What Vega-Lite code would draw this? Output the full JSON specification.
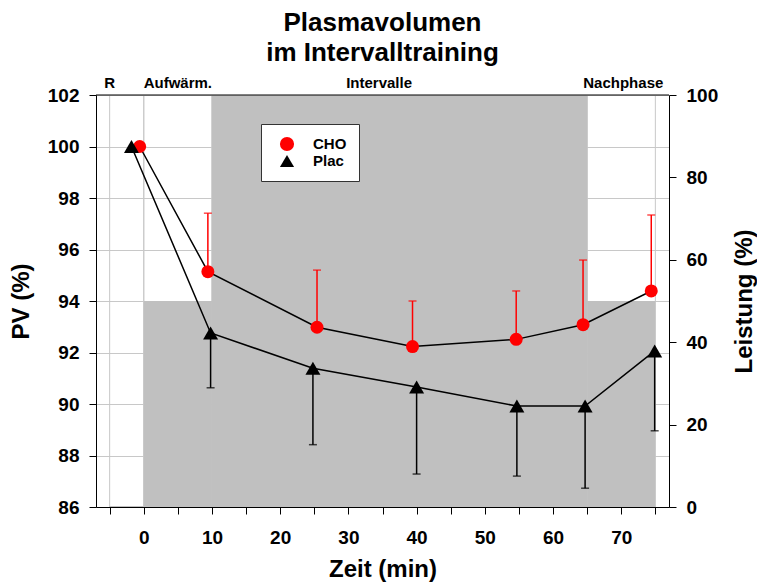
{
  "$schema": "https://vega.github.io/schema/vega-lite/v6.json",
  "width": 573,
  "height": 412,
  "autosize": "none",
  "padding": {"left": 96, "top": 95, "right": 88, "bottom": 76},
  "title": {
    "text": ["Plasmavolumen", " im Intervalltraining"],
    "font": "Liberation Sans",
    "fontSize": 26,
    "fontWeight": "bold",
    "lineHeight": 30,
    "color": "black",
    "anchor": "middle",
    "offset": 10
  },
  "datasets": {
    "phases": [
      {"phase": "R", "start": -5, "end": 0, "leistung": 0, "labelx": -5},
      {"phase": "Aufwärm.", "start": 0, "end": 10, "leistung": 50, "labelx": 5},
      {"phase": "Intervalle", "start": 10, "end": 65, "leistung": 100, "labelx": 34.5},
      {"phase": "Nachphase", "start": 65, "end": 75, "leistung": 50, "labelx": 70.3}
    ],
    "pv": [
      {"series": "CHO", "t": -0.6, "pv": 100.0},
      {"series": "CHO", "t": 9.4, "pv": 95.14, "bar": 97.41},
      {"series": "CHO", "t": 25.4, "pv": 92.98, "bar": 95.2},
      {"series": "CHO", "t": 39.4, "pv": 92.23, "bar": 94.0},
      {"series": "CHO", "t": 54.6, "pv": 92.51, "bar": 94.39},
      {"series": "CHO", "t": 64.4, "pv": 93.08, "bar": 95.59},
      {"series": "CHO", "t": 74.4, "pv": 94.39, "bar": 97.34},
      {"series": "Plac", "t": -1.8, "pv": 100.0},
      {"series": "Plac", "t": 9.8, "pv": 92.76, "bar": 90.63},
      {"series": "Plac", "t": 24.8, "pv": 91.39, "bar": 88.42},
      {"series": "Plac", "t": 40.0, "pv": 90.66, "bar": 87.28},
      {"series": "Plac", "t": 54.7, "pv": 89.92, "bar": 87.2},
      {"series": "Plac", "t": 64.7, "pv": 89.92, "bar": 86.73},
      {"series": "Plac", "t": 74.9, "pv": 92.06, "bar": 88.96}
    ]
  },
  "layer": [
    {
      "data": {"name": "phases"},
      "layer": [
        {
          "mark": {"type": "rule", "color": "#c8c8c8", "strokeWidth": 1},
          "encoding": {"x": {"field": "start", "type": "quantitative", "scale": {"domain": [-7, 77], "nice": false, "zero": false}}}
        },
        {
          "mark": {"type": "rule", "color": "#c8c8c8", "strokeWidth": 1},
          "encoding": {"x": {"field": "end", "type": "quantitative"}}
        },
        {
          "mark": {"type": "rect", "fill": "#c0c0c0", "stroke": "#c0c0c0"},
          "encoding": {
            "x": {
              "field": "start", "type": "quantitative",
              "axis": {
                "orient": "bottom",
                "values": [-5, 0, 5, 10, 15, 20, 25, 30, 35, 40, 45, 50, 55, 60, 65, 70, 75],
                "tickCount": 40,
                "labelExpr": "datum.value >= 0 && datum.value % 10 === 0 ? datum.label : ''",
                "labelOverlap": false,
                "labelFlush": false,
                "labelPadding": 14,
                "title": "Zeit (min)",
                "titlePadding": 10,
                "grid": false,
                "zindex": 1
              }
            },
            "x2": {"field": "end"},
            "y": {
              "field": "leistung", "type": "quantitative",
              "scale": {"domain": [0, 100], "nice": false},
              "axis": {
                "orient": "right",
                "values": [0, 20, 40, 60, 80, 100],
                "tickCount": 20,
                "labelPadding": 10,
                "title": "Leistung (%)",
                "titleAngle": 270,
                "titleBaseline": "top",
                "titlePadding": 15,
                "grid": false,
                "zindex": 1
              }
            },
            "y2": {"datum": 0},
            "strokeWidth": {"condition": {"test": "datum.leistung === 0", "value": 2}, "value": 0}
          }
        },
        {
          "transform": [{"filter": "datum.leistung === 100"}],
          "mark": {"type": "rule", "color": "black", "strokeWidth": 1},
          "encoding": {
            "y": {"field": "leistung", "type": "quantitative"}
          }
        }
      ]
    },
    {
      "data": {"name": "pv"},
      "layer": [
        {
          "mark": {"type": "line", "color": "black", "strokeWidth": 1.5},
          "encoding": {
            "x": {"field": "t", "type": "quantitative"},
            "y": {
              "field": "pv", "type": "quantitative",
              "scale": {"domain": [86, 102], "nice": false, "zero": false},
              "axis": {
                "orient": "left",
                "values": [86, 88, 90, 92, 94, 96, 98, 100, 102],
                "tickCount": 20,
                "grid": true,
                "gridColor": "#c8c8c8",
                "labelPadding": 10,
                "title": "PV (%)",
                "titlePadding": 14,
                "zindex": 0
              }
            },
            "detail": {"field": "series", "type": "nominal"}
          }
        },
        {
          "transform": [{"filter": "datum.series === 'CHO' && isValid(datum.bar)"}],
          "mark": {"type": "rule", "color": "#ff0000", "strokeWidth": 1.5},
          "encoding": {
            "x": {"field": "t", "type": "quantitative"},
            "y": {"field": "pv", "type": "quantitative"},
            "y2": {"field": "bar"}
          }
        },
        {
          "transform": [{"filter": "datum.series === 'CHO' && isValid(datum.bar)"}],
          "mark": {"type": "tick", "orient": "horizontal", "color": "#ff0000", "size": 8, "thickness": 1.5},
          "encoding": {
            "x": {"field": "t", "type": "quantitative"},
            "y": {"field": "bar", "type": "quantitative"}
          }
        },
        {
          "transform": [{"filter": "datum.series === 'Plac' && isValid(datum.bar)"}],
          "mark": {"type": "rule", "color": "black", "strokeWidth": 1.5},
          "encoding": {
            "x": {"field": "t", "type": "quantitative"},
            "y": {"field": "pv", "type": "quantitative"},
            "y2": {"field": "bar"}
          }
        },
        {
          "transform": [{"filter": "datum.series === 'Plac' && isValid(datum.bar)"}],
          "mark": {"type": "tick", "orient": "horizontal", "color": "black", "size": 8, "thickness": 1.5},
          "encoding": {
            "x": {"field": "t", "type": "quantitative"},
            "y": {"field": "bar", "type": "quantitative"}
          }
        },
        {
          "mark": {"type": "point", "filled": true, "opacity": 1},
          "encoding": {
            "x": {"field": "t", "type": "quantitative"},
            "y": {"field": "pv", "type": "quantitative"},
            "color": {
              "field": "series", "type": "nominal",
              "scale": {"domain": ["CHO", "Plac"], "range": ["#ff0000", "#000000"]},
              "legend": {
                "title": null, "orient": "none", "legendX": 165, "legendY": 29,
                "strokeColor": "#333333", "fillColor": "white", "padding": 12,
                "labelFont": "Liberation Sans", "labelFontWeight": "bold", "labelFontSize": 15, "labelColor": "black",
                "labelOffset": 18, "symbolOffset": 6, "symbolSize": 200, "rowPadding": 1
              }
            },
            "shape": {
              "field": "series", "type": "nominal",
              "scale": {"domain": ["CHO", "Plac"], "range": ["circle", "triangle-up"]},
              "legend": {
                "title": null, "orient": "none", "legendX": 165, "legendY": 29,
                "strokeColor": "#333333", "fillColor": "white", "padding": 12,
                "labelFont": "Liberation Sans", "labelFontWeight": "bold", "labelFontSize": 15, "labelColor": "black",
                "labelOffset": 18, "symbolOffset": 6, "symbolSize": 200, "rowPadding": 1
              }
            },
            "size": {"condition": {"test": "datum.series === 'CHO'", "value": 169}, "value": 225}
          }
        },
        {
          "data": {"name": "phases"},
          "mark": {"type": "text", "font": "Liberation Sans", "fontWeight": "bold", "fontSize": 15, "color": "black", "baseline": "alphabetic", "align": "center", "dy": -7},
          "encoding": {
            "x": {"field": "labelx", "type": "quantitative"},
            "y": {"datum": 102, "type": "quantitative"},
            "text": {"field": "phase"}
          }
        }
      ]
    }
  ],
  "resolve": {"scale": {"y": "independent"}},
  "config": {
    "font": "Liberation Sans",
    "view": {"stroke": null},
    "axis": {
      "labelFont": "Liberation Sans",
      "labelFontWeight": "bold",
      "labelFontSize": 19,
      "labelColor": "black",
      "titleFont": "Liberation Sans",
      "titleFontWeight": "bold",
      "titleFontSize": 24,
      "titleColor": "black",
      "domainColor": "black",
      "domainWidth": 1,
      "tickColor": "black",
      "tickWidth": 1,
      "tickSize": 7,
      "grid": false
    }
  }
}
